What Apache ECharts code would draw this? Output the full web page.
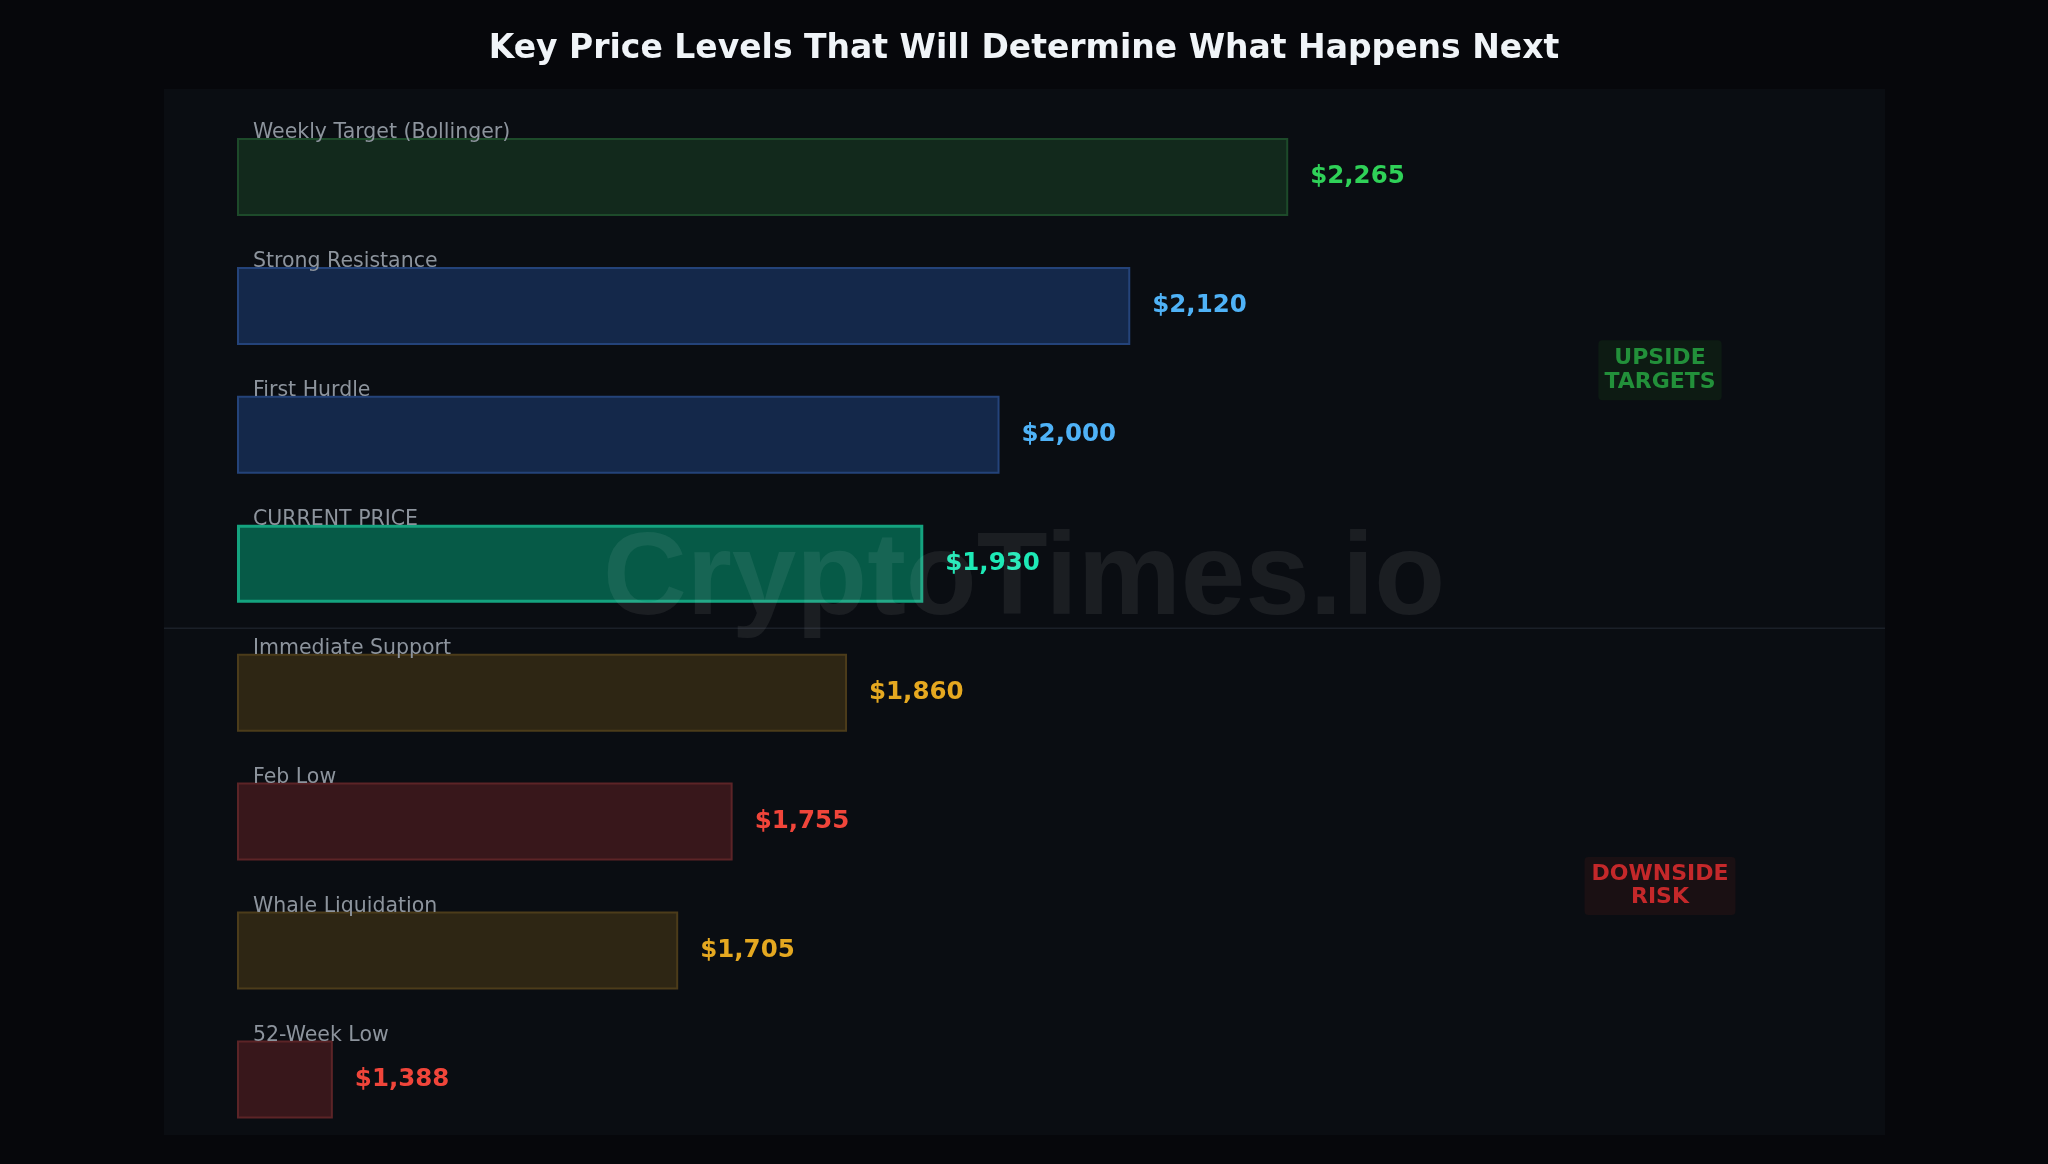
<!DOCTYPE html>
<html>
<head>
<meta charset="utf-8">
<script src="https://cdn.jsdelivr.net/npm/echarts@6/dist/echarts.min.js"></script>
<style>
html,body{margin:0;padding:0;background:#06070b;}
#c{width:2048px;height:1164px;}
</style>
</head>
<body>
<div id="c"></div>
<script>
const titleText = 'Key Price Levels That Will Determine What Happens Next';
const categories = ['Weekly Target (Bollinger)', 'Strong Resistance', 'First Hurdle', 'CURRENT PRICE', 'Immediate Support', 'Feb Low', 'Whale Liquidation', '52-Week Low'];
const prices = [2265, 2120, 2000, 1930, 1860, 1755, 1705, 1388];
const levelTypes = ['target', 'resistance', 'resistance', 'current', 'support', 'risk', 'support', 'risk'];
const zoneLabels = ['UPSIDE\nTARGETS', 'DOWNSIDE\nRISK'];
const watermarkText = 'CryptoTimes.io';
const axisMin = 1300;
const axisMax = 2800;

const styles = {
  target:     { fill: '#12291c', border: '#1d4a2a', bw: 2, text: '#2fd158' },
  resistance: { fill: '#14284a', border: '#24437a', bw: 2, text: '#4fb2f7' },
  current:    { fill: '#065a47', border: '#14a37f', bw: 3, text: '#1de9b6' },
  support:    { fill: '#2e2614', border: '#4c3c1a', bw: 2, text: '#e5a820' },
  risk:       { fill: '#38171b', border: '#5c2427', bw: 2, text: '#f0453a' }
};

const fmt = v => '$' + v.toLocaleString('en-US');

const chart = echarts.init(document.getElementById('c'), null, { renderer: 'canvas' });

const option = {
  backgroundColor: '#06070b',
  animation: false,
  title: {
    text: titleText,
    left: 'center',
    top: 28,
    textStyle: { color: '#f0f4f8', fontSize: 33, fontWeight: 'bold', fontFamily: 'DejaVu Sans' }
  },
  grid: { left: 237, top: 112.5, width: 1634, height: 1031.4, containLabel: false, outerBoundsMode: 'none' },
  xAxis: {
    type: 'value', min: axisMin, max: axisMax, startValue: axisMin, show: false
  },
  yAxis: {
    type: 'category',
    data: categories,
    inverse: true,
    z: 5,
    axisLine: { show: false },
    axisTick: { show: false },
    splitLine: { show: false },
    axisLabel: {
      inside: true,
      interval: 0,
      margin: 16,
      color: '#8d949d',
      fontSize: 20.5,
      fontFamily: 'DejaVu Sans',
      verticalAlign: 'bottom',
      lineHeight: 20,
      padding: [0, 0, 34, 0]
    }
  },
  series: [{
    type: 'bar',
    barWidth: 78,
    z: 2,
    data: prices.map((v, i) => {
      const s = styles[levelTypes[i]];
      return {
        value: v,
        itemStyle: { color: s.fill, borderColor: s.border, borderWidth: s.bw },
        label: { color: s.text }
      };
    }),
    label: {
      show: true,
      position: 'right',
      distance: 22,
      fontSize: 24.5,
      fontWeight: 'bold',
      fontFamily: 'DejaVu Sans',
      formatter: p => fmt(p.value)
    }
  }],
  graphic: [{
    type: 'rect',
    z: -10,
    shape: { x: 164, y: 89, width: 1721, height: 1046 },
    style: { fill: '#0a0d12' }
  }]
};
chart.setOption(option);

const yAt = i => chart.convertToPixel({ yAxisIndex: 0 }, categories[i]);
const sepY = (yAt(3) + yAt(4)) / 2;
const upY = (yAt(0) + yAt(3)) / 2;
const downY = (yAt(4) + yAt(7)) / 2;

chart.setOption({
  graphic: [
    {
      type: 'rect',
      z: -10,
      shape: { x: 164, y: 89, width: 1721, height: 1046 },
      style: { fill: '#0a0d12' }
    },
    {
      type: 'line',
      z: 1,
      shape: { x1: 164, y1: sepY, x2: 1885, y2: sepY },
      style: { stroke: '#1b2028', lineWidth: 1.5 }
    },
    {
      type: 'text',
      z: 10,
      x: 1660,
      y: upY,
      style: {
        text: zoneLabels[0],
        fill: '#22903a',
        font: 'bold 22px "DejaVu Sans"',
        lineHeight: 24,
        align: 'center',
        verticalAlign: 'middle',
        backgroundColor: '#0d1b13',
        padding: [6, 6],
        borderRadius: 4
      }
    },
    {
      type: 'text',
      z: 10,
      x: 1660,
      y: downY,
      style: {
        text: zoneLabels[1],
        fill: '#c4282a',
        font: 'bold 22px "DejaVu Sans"',
        lineHeight: 23,
        align: 'center',
        verticalAlign: 'middle',
        backgroundColor: '#1a1013',
        padding: [6, 7],
        borderRadius: 4
      }
    },
    {
      type: 'text',
      z: 100,
      x: 1024,
      y: 582,
      style: {
        text: watermarkText,
        fill: 'rgba(255,255,255,0.07)',
        font: 'bold 116px "Liberation Sans"',
        align: 'center',
        verticalAlign: 'middle'
      }
    }
  ]
});
</script>
</body>
</html>
